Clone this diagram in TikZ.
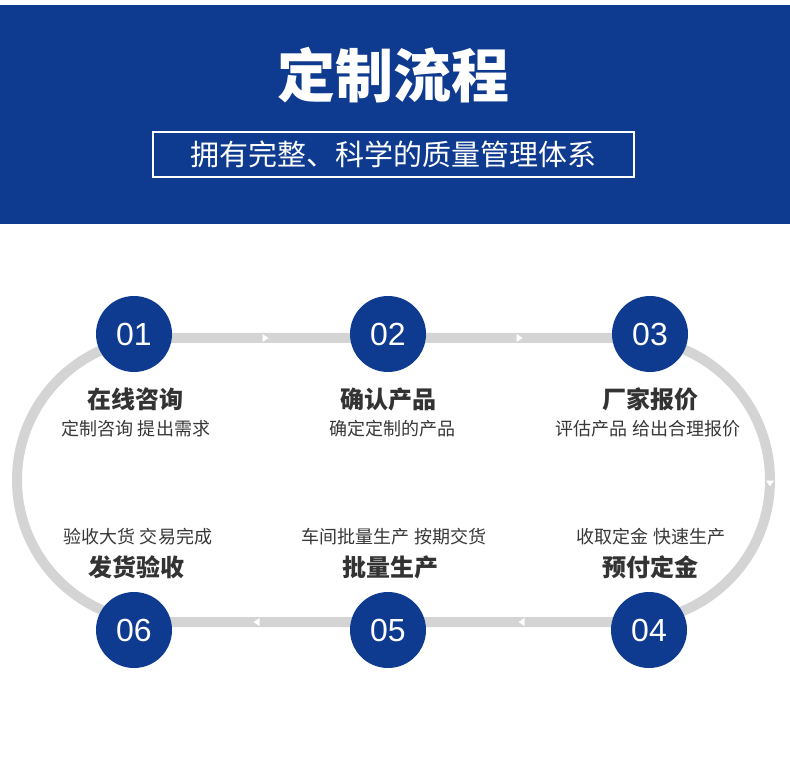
\documentclass[tikz,border=0pt]{standalone}
\usepackage{fontspec}
\setmainfont{Liberation Sans}
\newfontfamily\cjk{Noto Sans CJK SC}

\definecolor{brandblue}{HTML}{0E3A8F}
\definecolor{trackgray}{HTML}{D4D4D4}
\definecolor{inkdark}{HTML}{333333}
\definecolor{inkmid}{HTML}{383838}

\tikzset{
    stepdot/.style={circle,fill=brandblue,minimum size=76pt,inner sep=0pt,
        text=white,font=\fontsize{32}{32}\selectfont},
    steptitle/.style={text=inkdark,inner sep=0pt,
        font=\cjk\bfseries\fontsize{24}{24}\selectfont},
    stepnote/.style={text=inkmid,inner sep=0pt,
        font=\cjk\fontsize{18}{18}\selectfont},
    track/.style={draw=trackgray,line width=10pt},
    flowmark/.style={fill=white},
}

\begin{document}
\begin{tikzpicture}[x=1pt,y=-1pt]
    \useasboundingbox (0,0) rectangle (790,767);
    \fill[white] (0,0) rectangle (790,767);

    % header band
    \fill[brandblue] (0,5) rectangle (790,224);
    \node[text=white,font=\cjk\bfseries\fontsize{58}{58}\selectfont] (title) at (393,75) {定制流程};
    \node[draw=white,line width=1.2pt,text=white,inner sep=0pt,
        minimum width=481pt,minimum height=45pt,
        font=\cjk\fontsize{29}{29}\selectfont] (subtitle) at (393.5,154.5) {拥有完整、科学的质量管理体系};

    % the loop
    \draw[track] (159,338) -- (628,338) arc[start angle=-90,end angle=90,radius=142]
        -- (159,622) arc[start angle=90,end angle=270,radius=142] -- cycle;

    \foreach \x/\y/\a in {265/338/0, 519/338/0, 770/483/-90, 522/622/180, 257/622/180}{
        \fill[flowmark,shift={(\x,\y)},rotate=\a] (3.5,0) -- (-2.5,-4) -- (-2.5,4) -- cycle;
    }

    % steps
    \foreach \n/\x/\y in {1/134/334, 2/388/334, 3/650/334, 4/649/630, 5/388/630, 6/134/630}{
        \node[stepdot] (s\n) at (\x,\y) {0\n};
    }

    \node[steptitle] (h1) at (135,399) {在线咨询};
    \node[stepnote] (n1) at (136,429) {定制咨询 提出需求};
    \node[steptitle] (h2) at (388,399) {确认产品};
    \node[stepnote] (n2) at (392,429) {确定定制的产品};
    \node[steptitle] (h3) at (650,399) {厂家报价};
    \node[stepnote] (n3) at (648,429) {评估产品 给出合理报价};

    \node[stepnote] (n4) at (651,537) {收取定金 快速生产};
    \node[steptitle] (h4) at (650,567) {预付定金};
    \node[stepnote] (n5) at (394,537) {车间批量生产 按期交货};
    \node[steptitle] (h5) at (390,567) {批量生产};
    \node[stepnote] (n6) at (138,537) {验收大货 交易完成};
    \node[steptitle] (h6) at (136,567) {发货验收};
\end{tikzpicture}
\end{document}
